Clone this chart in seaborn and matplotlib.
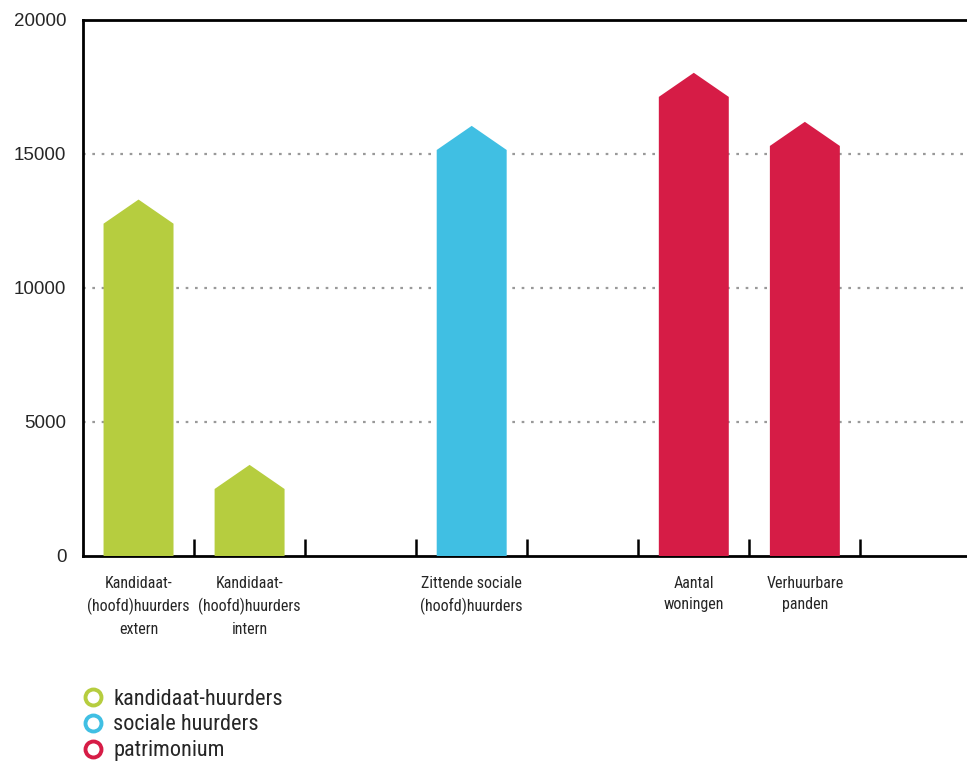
import numpy as np
import matplotlib
matplotlib.use('Agg')
import matplotlib.pyplot as plt
import matplotlib.font_manager as fm
from matplotlib.patches import Polygon
from matplotlib.lines import Line2D
import pandas as pd
import seaborn as sns

# data (bar body height; roof sits on top)
labels = ['Kandidaat-\n(hoofd)huurders\nextern', 'Kandidaat-\n(hoofd)huurders\nintern',
          'Zittende sociale\n(hoofd)huurders', 'Aantal\nwoningen', 'Verhuurbare\npanden']
values = [12400, 2500, 15150, 17130, 15300]
groups = ['kandidaat-huurders', 'kandidaat-huurders', 'sociale huurders', 'patrimonium', 'patrimonium']
group_names = ['kandidaat-huurders', 'sociale huurders', 'patrimonium']
colors = ['#B6CD3F', '#40BFE3', '#D61C46']
# empty slots between the groups
slot_order = [labels[0], labels[1], ' ', labels[2], '  ', labels[3], labels[4]]


def find_narrow():
    cands = []
    for f in fm.fontManager.ttflist:
        nm = f.name
        narrowish = ('Condensed' in nm or 'Narrow' in nm or
                     f.stretch in ('condensed', 'semi-condensed', 'extra-condensed', 'ultra-condensed'))
        if not narrowish or f.style != 'normal':
            continue
        if f.weight not in (400, 'normal', 'regular'):
            continue
        rank = 9
        for i, key in enumerate(['Roboto', 'Liberation', 'Noto Sans', 'Open Sans', 'DejaVu Sans']):
            if nm.startswith(key):
                rank = i
                break
        if 'Mono' in nm or 'Serif' in nm or 'CJK' in nm:
            rank += 20
        cands.append((rank, f.fname))
    cands.sort()
    return cands[0][1] if cands else None


narrow_file = find_narrow()


def nfont(size):
    if narrow_file:
        return fm.FontProperties(fname=narrow_file, size=size)
    return fm.FontProperties(family='DejaVu Sans', size=size * 0.85)


sns.set_style('white')
plt.rcParams['font.family'] = ['Liberation Sans', 'DejaVu Sans']

df = pd.DataFrame({'label': labels, 'value': values, 'group': groups})
palette = dict(zip(group_names, colors))

fig = plt.figure(figsize=(9.67, 7.63), dpi=100)
ax = fig.add_axes([83 / 967, 1 - 556 / 763, 1 - 83 / 967, (556 - 20) / 763])

sns.barplot(data=df, x='label', y='value', hue='group', order=slot_order,
            palette=palette, dodge=False, width=0.63, legend=False,
            saturation=1, ax=ax, zorder=3)

# turn each bar into a house shape
roof = 900
for p in list(ax.patches):
    x0, w, h = p.get_x(), p.get_width(), p.get_height()
    if np.isnan(h) or h <= 0:
        continue
    house = Polygon([[x0, 0], [x0, h], [x0 + w / 2, h + roof], [x0 + w, h], [x0 + w, 0]],
                    closed=True, facecolor=p.get_facecolor(), edgecolor='none', zorder=3)
    ax.add_patch(house)
    p.set_visible(False)

ax.set_xlim(-0.5, 7.46)
ax.set_ylim(0, 20000)
ax.set_yticks([0, 5000, 10000, 15000, 20000])
ax.set_yticklabels(['0', '5000', '10000', '15000', '20000'], fontsize=13.5)
ax.tick_params(axis='y', length=0, pad=12)

# boundary ticks as major, labels as minor
ax.set_xticks(np.arange(0.5, 7.0, 1.0))
ax.set_xticklabels([])
ax.tick_params(axis='x', which='major', direction='in', length=12, width=1.8, color='black', bottom=True)
ax.set_xticks(np.arange(len(slot_order)), minor=True)
ax.set_xticklabels(slot_order, minor=True, fontproperties=nfont(11.5),
                   linespacing=1.52, va='top')
ax.tick_params(axis='x', which='minor', length=0, pad=14.5)
ax.set_xlabel('')
ax.set_ylabel('')

for yv in [5000, 10000, 15000]:
    ax.axhline(yv, color='#999999', lw=1.6, ls=(0, (1.2, 3)), zorder=1)

for s in ['left', 'bottom', 'top']:
    ax.spines[s].set_visible(True)
    ax.spines[s].set_color('black')
    ax.spines[s].set_linewidth(2)
ax.spines['right'].set_visible(False)

handles = [Line2D([], [], marker='o', ls='none', markersize=11.5, markerfacecolor='white',
                  markeredgecolor=c, markeredgewidth=2.8) for c in colors]
fig.legend(handles, group_names, loc='lower left', bbox_to_anchor=(60 / 967, -0.024),
           frameon=False, handletextpad=0.3, labelspacing=0.22, handlelength=1.2,
           prop=nfont(16))

fig.savefig('out.png', dpi=100)
